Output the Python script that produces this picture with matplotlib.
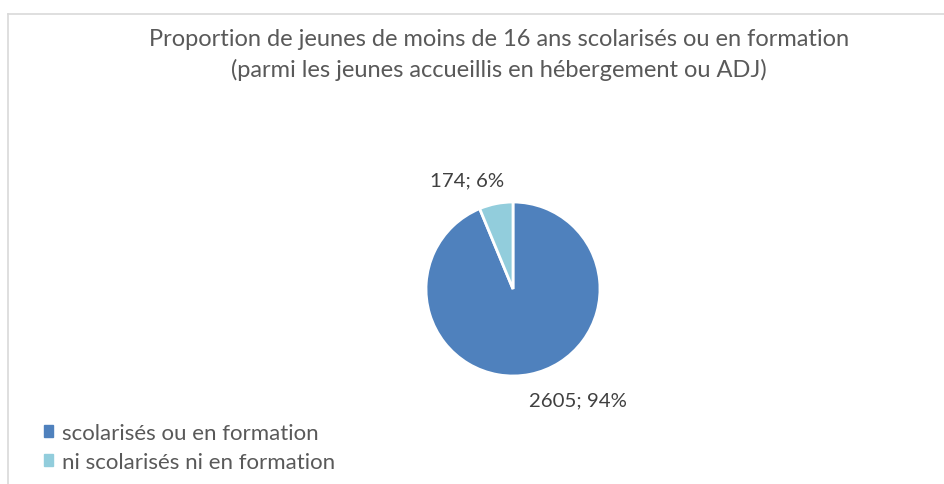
import matplotlib.pyplot as plt
from matplotlib.lines import Line2D

categories = ["scolarisés ou en formation", "ni scolarisés ni en formation"]
values = [2605, 174]
colors = ["#4F81BD", "#92CDDC"]

plt.rcParams['font.family'] = ['Lato', 'DejaVu Sans']
gris = "#595959"

fig = plt.figure(figsize=(9.45, 4.85), dpi=100)

# cadre gris clair (coupé à droite et en bas)
fig.add_artist(Line2D([8.5/945, 1], [1 - 14.5/485] * 2, color="#D9D9D9", lw=1.2))
fig.add_artist(Line2D([8.5/945] * 2, [0, 1 - 14.5/485], color="#D9D9D9", lw=1.2))

fig.text(499/945, 1 - 40/485, "Proportion de jeunes de moins de 16 ans scolarisés ou en formation",
         ha="center", va="center", fontsize=17, color=gris)
fig.text(499/945, 1 - 70/485, "(parmi les jeunes accueillis en hébergement ou ADJ)",
         ha="center", va="center", fontsize=17, color=gris)

# camembert
ax = fig.add_axes([426/945, 108/485, 174/945, 174/485])
wedges, _ = ax.pie(values, colors=colors, startangle=90, counterclock=False,
                   wedgeprops=dict(edgecolor="white", linewidth=2))
ax.set_xlim(-1, 1)
ax.set_ylim(-1, 1)
ax.set_aspect("auto")

total = sum(values)
label_pos = [(0.75, -1.27), (-0.53, 1.25)]
for v, (x, y) in zip(values, label_pos):
    ax.text(x, y, f"{v}; {round(100 * v / total)}%", ha="center", va="center",
            fontsize=14.7, color="#404040", clip_on=False)

handles = [plt.Rectangle((0, 0), 1, 1, color=c) for c in colors]
fig.legend(handles, categories, loc="upper left", bbox_to_anchor=(35/945, 1 - 415/485),
           frameon=False, fontsize=16, labelcolor=gris, handlelength=0.42, handleheight=0.42,
           handletextpad=0.4, labelspacing=0.4, borderaxespad=0)

plt.savefig("out.png", dpi=100)
